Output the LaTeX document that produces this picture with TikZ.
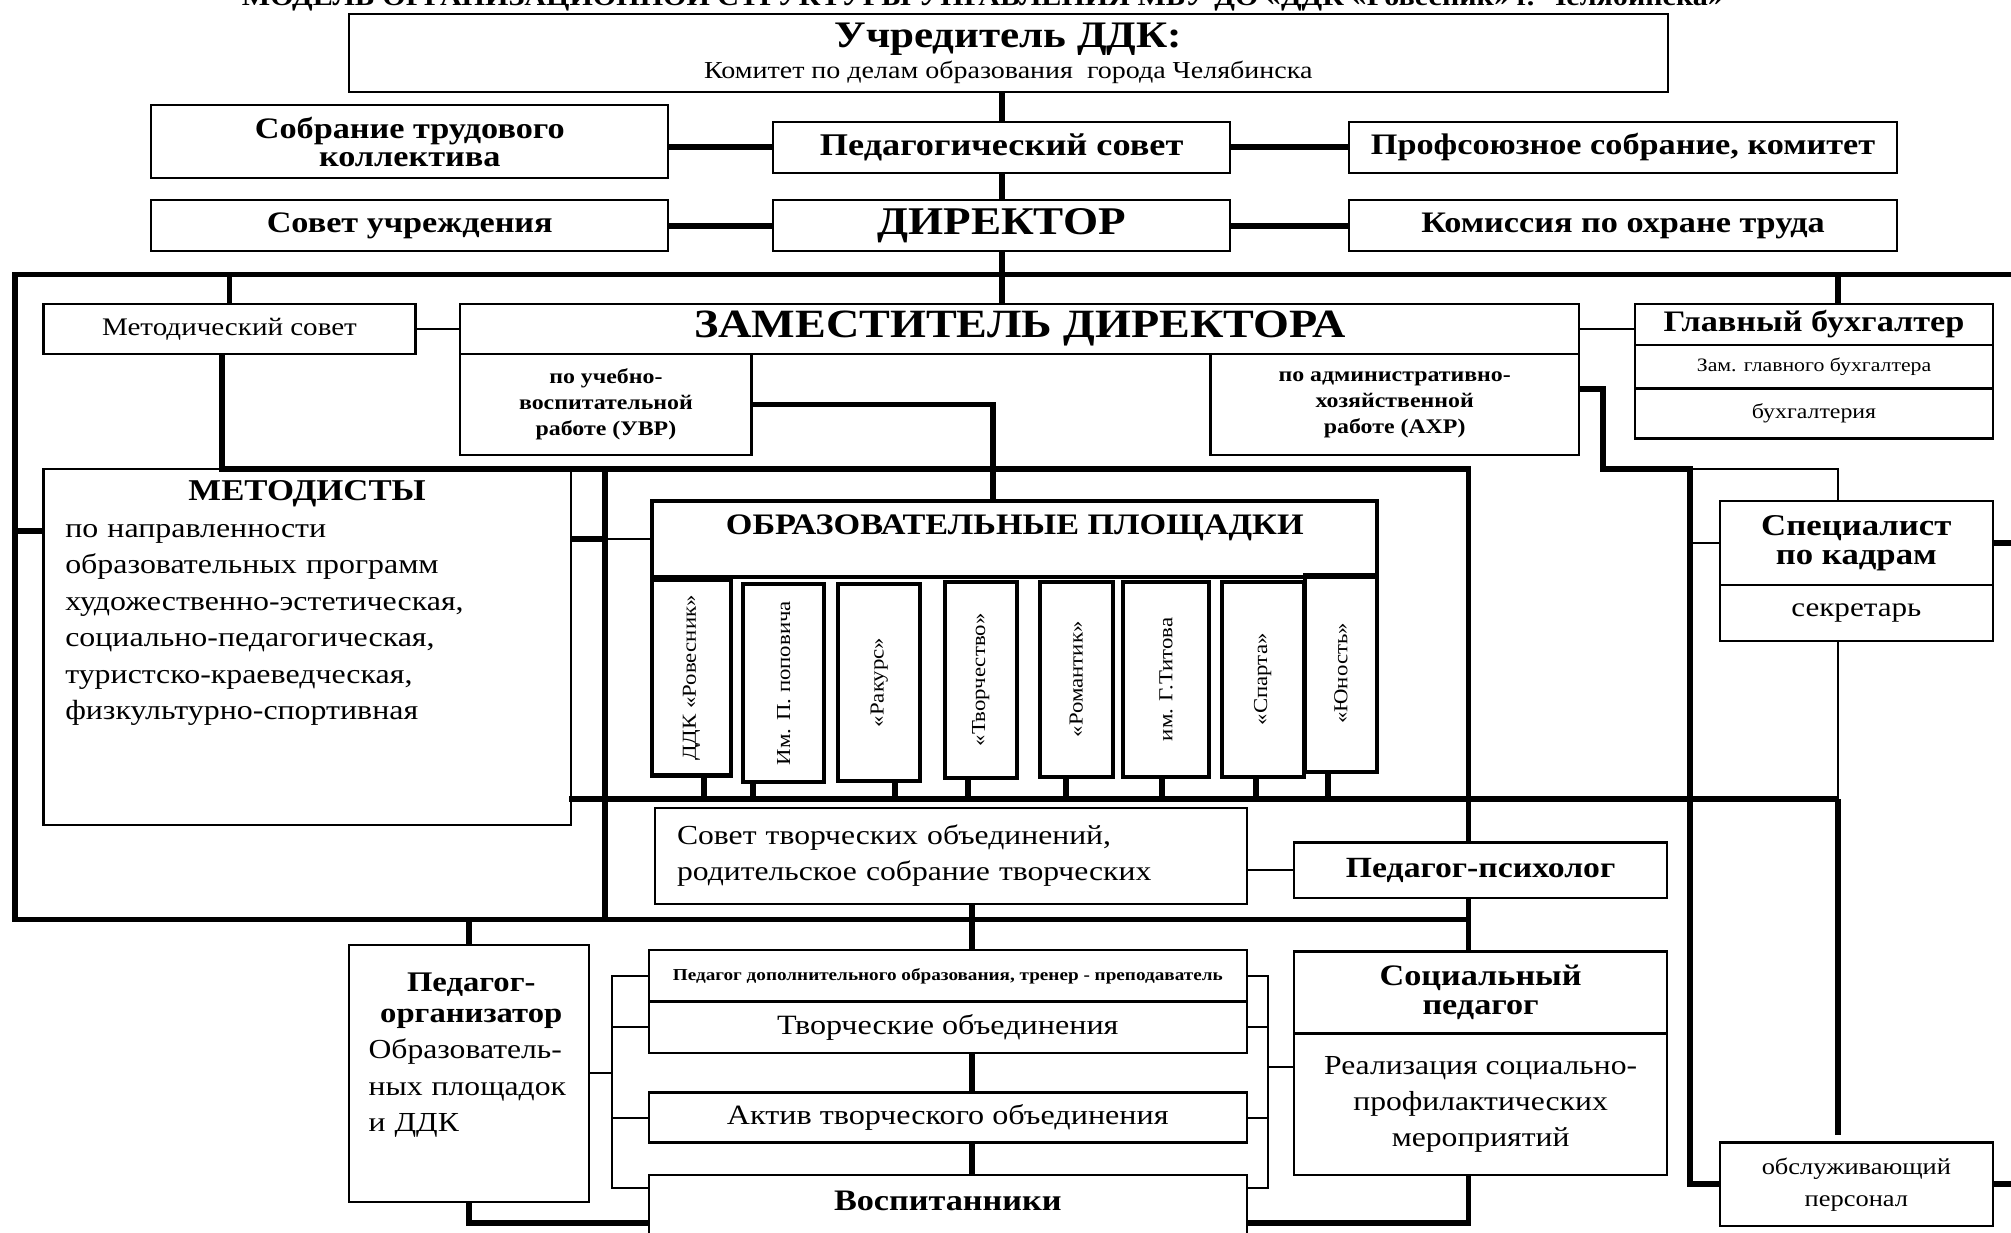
\documentclass[tikz,border=0pt]{standalone}
\usepackage{fontspec}
\setmainfont{Liberation Serif}[FakeStretch=1.15]
\usetikzlibrary{calc}
\newcommand{\fsz}[2]{\fontsize{#1}{#2}\selectfont}
\tikzset{
  blk/.style={draw, line width=0.5pt, inner sep=0pt, anchor=north west, align=center},
  sitebox/.style={blk, line width=0.9pt},
  heavy/.style={line width=1.3pt},
  light/.style={line width=0.45pt},
}

\begin{document}
\begin{tikzpicture}[x=0.01cm, y=-0.01cm]
\useasboundingbox (0,0) rectangle (1568,961);

\node[anchor=base, inner sep=0pt] (title) at (766,4) {\fsz{5.8}{6}\bfseries МОДЕЛЬ ОРГАНИЗАЦИОННОЙ СТРУКТУРЫ УПРАВЛЕНИЯ МБУ ДО «ДДК «Ровесник» г. Челябинска»};

\node[blk, minimum width=10.28cm, minimum height=0.61cm, font=\fsz{5.4}{6.8}] (uchr) at (271,10) {{\fsz{8.3}{9}\bfseries Учредитель ДДК:}\\Комитет по делам образования\ \ города Челябинска};
\node[blk, minimum width=4.03cm, minimum height=0.57cm, font=\fsz{6.6}{6.2}\bfseries] (sobr) at (117,81) {Собрание трудового\\коллектива};
\node[blk, minimum width=3.56cm, minimum height=0.40cm, font=\fsz{7}{7}\bfseries] (pedsov) at (602,94) {Педагогический совет};
\node[blk, minimum width=4.27cm, minimum height=0.40cm, font=\fsz{6.6}{7}\bfseries] (prof) at (1051,94) {Профсоюзное собрание, комитет};
\node[blk, minimum width=4.03cm, minimum height=0.40cm, font=\fsz{6.6}{7}\bfseries] (sovu) at (117,155) {Совет учреждения};
\node[blk, minimum width=3.56cm, minimum height=0.40cm, font=\fsz{8.7}{9}\bfseries] (dir) at (602,155) {ДИРЕКТОР};
\node[blk, minimum width=4.27cm, minimum height=0.40cm, font=\fsz{6.6}{7}\bfseries] (komis) at (1051,155) {Комиссия по охране труда};

\node[blk, minimum width=2.90cm, minimum height=0.39cm, font=\fsz{5.6}{6}] (msov) at (33,236) {Методический совет};
\node[blk, minimum width=8.72cm, minimum height=0.39cm, font=\fsz{8.9}{9}\bfseries] (zam) at (358,236) {ЗАМЕСТИТЕЛЬ ДИРЕКТОРА};
\node[blk, minimum width=2.27cm, minimum height=0.79cm, font=\fsz{4.6}{5.8}\bfseries] (uvr) at (358,275) {по учебно-\\воспитательной\\работе (УВР)};
\node[blk, minimum width=2.87cm, minimum height=0.79cm, font=\fsz{4.6}{5.8}\bfseries] (ahr) at (943,275) {по административно-\\хозяйственной\\работе (АХР)};
\node[blk, minimum width=2.79cm, minimum height=0.32cm, font=\fsz{6.6}{7}\bfseries] (glb) at (1274,236) {Главный бухгалтер};
\node[blk, minimum width=2.79cm, minimum height=0.34cm, font=\fsz{4.2}{5}] (zgb) at (1274,268) {Зам. главного бухгалтера};
\node[blk, minimum width=2.79cm, minimum height=0.39cm, font=\fsz{4.6}{5}] (buh) at (1274,302) {бухгалтерия};

\node[blk, minimum width=4.11cm, minimum height=2.77cm] (met) at (33,365) {};
\node[anchor=north, inner sep=0pt, text width=3.77cm, align=left, font=\fsz{6.15}{8.1}] (metT) at ($(met.north)+(0,9)$) {{\centering\fsz{6.7}{8}\bfseries МЕТОДИСТЫ\par}по направленности\\образовательных программ\\художественно-эстетическая,\\социально-педагогическая,\\туристско-краеведческая,\\физкультурно-спортивная};

\node[sitebox, minimum width=5.65cm, minimum height=0.59cm] (obr) at (507,389) {};
\node[anchor=north, inner sep=0pt] (obrT) at ($(obr.north)+(0,12)$) {\fsz{6.6}{7}\bfseries ОБРАЗОВАТЕЛЬНЫЕ ПЛОЩАДКИ};
\node[sitebox, minimum width=0.61cm, minimum height=1.52cm] (p1) at (507,451) {\rotatebox{90}{\fsz{4.4}{5}ДДК «Ровесник»}};
\node[sitebox, minimum width=0.63cm, minimum height=1.54cm] (p2) at (578,454) {\rotatebox{90}{\fsz{4.4}{5}Им. П. поповича}};
\node[sitebox, minimum width=0.64cm, minimum height=1.53cm] (p3) at (652,454) {\rotatebox{90}{\fsz{4.4}{5}«Ракурс»}};
\node[sitebox, minimum width=0.56cm, minimum height=1.53cm] (p4) at (735,452) {\rotatebox{90}{\fsz{4.4}{5}«Творчество»}};
\node[sitebox, minimum width=0.57cm, minimum height=1.52cm] (p5) at (809,452) {\rotatebox{90}{\fsz{4.4}{5}«Романтик»}};
\node[sitebox, minimum width=0.67cm, minimum height=1.52cm] (p6) at (874,452) {\rotatebox{90}{\fsz{4.4}{5}им. Г.Титова}};
\node[sitebox, minimum width=0.64cm, minimum height=1.52cm] (p7) at (951,452) {\rotatebox{90}{\fsz{4.4}{5}«Спарта»}};
\node[sitebox, minimum width=0.56cm, minimum height=1.53cm] (p8) at (1016,447) {\rotatebox{90}{\fsz{4.4}{5}«Юность»}};

\node[blk, minimum width=2.13cm, minimum height=0.65cm, font=\fsz{6.7}{6.5}\bfseries] (kadr) at (1340,390) {Специалист\\по кадрам};
\node[blk, minimum width=2.13cm, minimum height=0.44cm, font=\fsz{6}{7}] (sekr) at (1340,455) {секретарь};

\node[blk, minimum width=4.61cm, minimum height=0.75cm, text width=4.27cm, align=left, font=\fsz{6.1}{8}] (stv) at (510,629) {Совет творческих объединений,\\родительское собрание творческих};
\node[blk, minimum width=2.91cm, minimum height=0.43cm, font=\fsz{6.5}{7}\bfseries] (psy) at (1008,656) {Педагог-психолог};

\node[blk, minimum width=1.87cm, minimum height=2.00cm] (porg) at (271,736) {};
\node[anchor=north, inner sep=0pt, text width=1.6cm, align=left, font=\fsz{6.1}{8.1}] (porgT) at ($(porg.north)+(2,22)$) {{\centering\fsz{6.3}{6.8}\bfseries Педагог-\\организатор\par}Образователь-\\ных площадок\\и ДДК};

\node[blk, minimum width=4.66cm, minimum height=0.40cm, font=\fsz{3.7}{4}\bfseries] (pdo) at (505,740) {Педагог дополнительного образования, тренер - преподаватель};
\node[blk, minimum width=4.66cm, minimum height=0.40cm, font=\fsz{6.2}{7}] (tvo) at (505,780) {Творческие объединения};
\node[blk, minimum width=4.66cm, minimum height=0.39cm, font=\fsz{6.2}{7}] (akt) at (505,851) {Актив творческого объединения};
\node[blk, minimum width=4.66cm, minimum height=0.76cm] (vosp) at (505,915) {};
\node[inner sep=0pt] (vospT) at ($(vosp.north)+(0,21)$) {\fsz{6.6}{7}\bfseries Воспитанники};

\node[blk, minimum width=2.91cm, minimum height=0.64cm, font=\fsz{6.6}{6.3}\bfseries] (soc) at (1008,741) {Социальный\\педагог};
\node[blk, minimum width=2.91cm, minimum height=1.10cm, font=\fsz{6.1}{8}] (socB) at (1008,805) {Реализация социально-\\профилактических\\мероприятий};
\node[blk, minimum width=2.13cm, minimum height=0.65cm, font=\fsz{5.1}{7.1}] (obs) at (1340,890) {обслуживающий\\персонал};

\coordinate (busL) at (12,214);
\coordinate (busR) at (1590,214);
\coordinate (botL) at (12,717);
\coordinate (railL) at (173,366);
\coordinate (railR) at (1145,366);
\coordinate (crossT) at (472,366);
\coordinate (crossB) at (472,717);
\coordinate (midL) at (444,623);
\coordinate (midR) at (1433,623);
\coordinate (vR) at (1318,366);
\coordinate (ahrK) at (1250,366);
\coordinate (colM) at (758,0);
\coordinate (brL) at (477,0);
\coordinate (brR) at (989,0);
\coordinate (metY) at (0,414);
\coordinate (vospTk) at ($(vosp.north west)+(0,11)$);
\coordinate (socTk) at ($(socB.north west)+(0,27)$);

\draw[heavy] (pedsov.north |- uchr.south) -- (pedsov.north);
\draw[heavy] (pedsov.south) -- (dir.north);
\draw[heavy] (dir.south) -- (dir.south |- zam.north);
\draw[heavy] (sobr.east |- pedsov.west) -- (pedsov.west);
\draw[heavy] (pedsov.east) -- (prof.west);
\draw[heavy] (sovu.east) -- (dir.west);
\draw[heavy] (dir.east) -- (komis.west);

\draw[heavy] (busR) -- (busL) -- (botL) -- (botL -| railR);
\draw[heavy] (msov.north) -- (msov.north |- busL);
\draw[heavy] (midR |- glb.north) -- (midR |- busL);
\draw[light] (msov.east) -- (zam.west);
\draw[light] (zam.east) -- (zam.east -| glb.west);

\draw[heavy] (msov.south -| railL) -- (railL) -- (railR) -- (railR |- psy.north);
\draw[heavy] (crossT) -- (crossB);
\draw[heavy] (midL) -- (midR);
\draw[heavy] (uvr.east) -| ($(obr.north)+(-17,0)$);
\draw[heavy] ($(ahr.north east)+(0,28)$) -| (ahrK) -- (vR) -- (vR |- obs.west) -- (obs.west);
\draw[light] (vR) -| (midR |- kadr.north);
\draw[light] (vR |- kadr.west) -- (kadr.west);
\draw[heavy] (kadr.east) -- ++(30,0);
\draw[light] (midR |- sekr.south) -- (midR);
\draw[heavy] (midR) -- ($(midR |- obs.north)+(0,-5)$);
\draw[heavy] (obs.east) -- ++(30,0);

\draw[heavy] (busL |- metY) -- (met.west |- metY);
\draw[heavy] (met.east |- obr.west) -- (crossT |- obr.west);
\draw[light] (crossT |- obr.west) -- (obr.west);
\foreach \s/\dx in {p1/10, p2/-24, p3/12, p4/-10, p5/-8, p6/-3, p7/-5, p8/-10}
  \draw[heavy] ($(\s.south)+(\dx,0)$) -- ($(\s.south |- midL)+(\dx,0)$);

\draw[light] (psy.west) -- (psy.west -| stv.east);
\draw[heavy] (colM |- stv.south) -- (colM |- pdo.north);
\draw[heavy] (colM |- tvo.south) -- (colM |- akt.north);
\draw[heavy] (colM |- akt.south) -- (colM |- vosp.north);
\draw[heavy] (railR |- psy.south) -- (railR |- soc.north);
\draw[heavy] (railR |- socB.south) -- (railR |- vosp.east) -- (vosp.east);
\draw[heavy] (porg.north) -- (porg.north |- botL);
\draw[heavy] (porg.south) |- (vosp.west);

\draw[light] (pdo.west) -| (brL |- vospTk) -- (vospTk);
\draw[light] (tvo.west) -- (tvo.west -| brL);
\draw[light] (akt.west) -- (akt.west -| brL);
\draw[light] (porg.east) -- (porg.east -| brL);
\draw[light] (pdo.east) -| (brR |- vospTk) -- (vospTk -| vosp.east);
\draw[light] (tvo.east) -- (tvo.east -| brR);
\draw[light] (akt.east) -- (akt.east -| brR);
\draw[light] (socTk) -- (socTk -| brR);

\end{tikzpicture}
\end{document}
